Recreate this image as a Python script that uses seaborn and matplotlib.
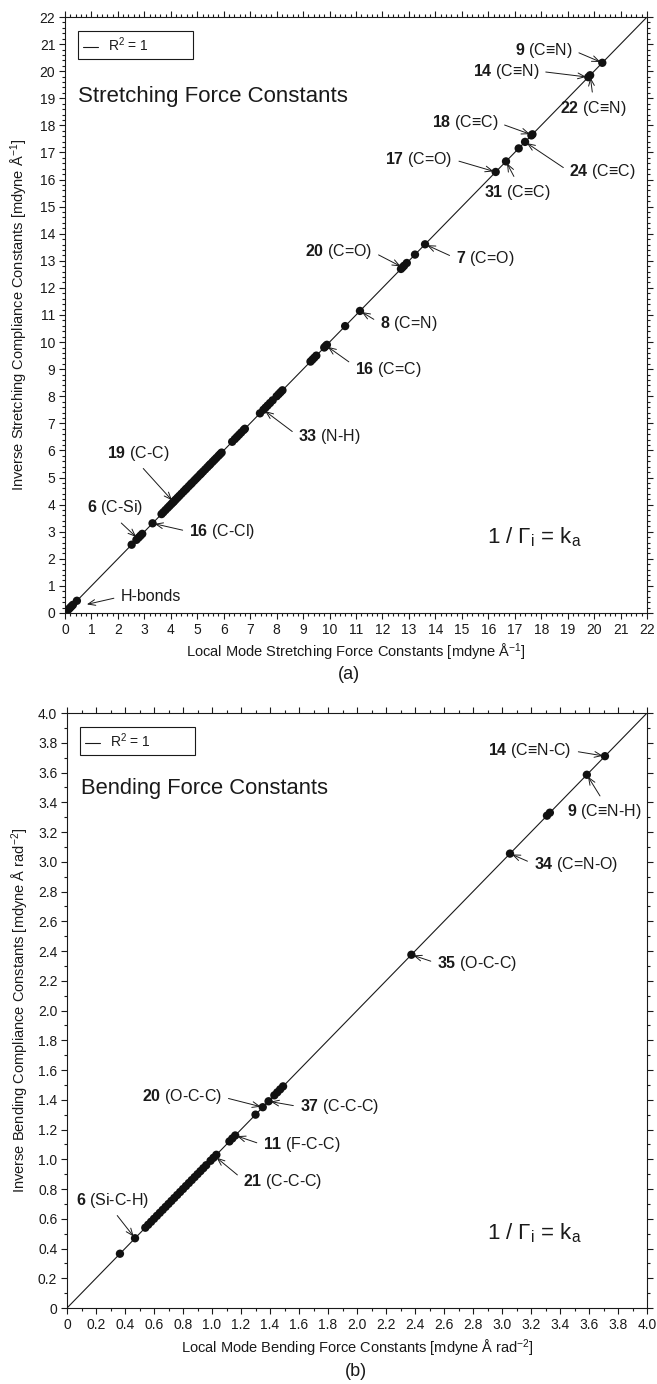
import matplotlib
matplotlib.use("Agg")
import matplotlib.pyplot as plt
import seaborn as sns
import numpy as np
from matplotlib.ticker import MultipleLocator, FixedLocator, FixedFormatter

# ---------------- data ----------------
# (a) stretching: local mode force constant k_a vs inverse compliance 1/Gamma
stretch_ka = [0.05, 0.10, 0.15, 0.20, 0.25, 0.30, 0.45,
              2.52, 2.70, 2.78, 2.85, 2.92, 3.31,
              3.65, 3.72, 3.80, 3.88, 3.95, 4.02, 4.08, 4.12, 4.18, 4.25, 4.32,
              4.40, 4.48, 4.55, 4.60, 4.68, 4.75, 4.80, 4.88, 4.95, 5.02, 5.10,
              5.15, 5.22, 5.30, 5.38, 5.45, 5.50, 5.58, 5.65, 5.72, 5.80, 5.86, 5.92,
              6.32, 6.42, 6.50, 6.58, 6.66, 6.75, 6.80,
              7.37, 7.50, 7.58, 7.66, 7.75, 7.85, 8.00, 8.08, 8.15, 8.22,
              9.28, 9.35, 9.42, 9.50, 9.80, 9.85, 9.90, 10.59, 11.15,
              12.70, 12.76, 12.82, 12.92, 13.23, 13.61,
              16.28, 16.67, 17.15, 17.39, 17.63, 17.67, 19.78, 19.85, 20.31]
stretch_inv = [0.05, 0.10, 0.15, 0.20, 0.25, 0.30, 0.45,
               2.52, 2.70, 2.78, 2.85, 2.92, 3.31,
               3.65, 3.72, 3.80, 3.88, 3.95, 4.02, 4.08, 4.12, 4.18, 4.25, 4.32,
               4.40, 4.48, 4.55, 4.60, 4.68, 4.75, 4.80, 4.88, 4.95, 5.02, 5.10,
               5.15, 5.22, 5.30, 5.38, 5.45, 5.50, 5.58, 5.65, 5.72, 5.80, 5.86, 5.92,
               6.32, 6.42, 6.50, 6.58, 6.66, 6.75, 6.80,
               7.37, 7.50, 7.58, 7.66, 7.75, 7.85, 8.00, 8.08, 8.15, 8.22,
               9.28, 9.35, 9.42, 9.50, 9.80, 9.85, 9.90, 10.59, 11.15,
               12.70, 12.76, 12.82, 12.92, 13.23, 13.61,
               16.28, 16.67, 17.15, 17.39, 17.63, 17.67, 19.78, 19.85, 20.31]

# (b) bending
bend_ka = [0.365, 0.469, 0.54, 0.56, 0.58, 0.60,
           0.62, 0.64, 0.66, 0.68, 0.70, 0.72, 0.74, 0.76, 0.78, 0.80,
           0.82, 0.84, 0.86, 0.88, 0.90, 0.92, 0.94, 0.96,
           0.99, 1.01, 1.03, 1.12, 1.14, 1.16, 1.30, 1.35, 1.39,
           1.43, 1.45, 1.47, 1.49, 2.375, 3.055, 3.31, 3.33, 3.585, 3.71]
bend_inv = [0.365, 0.469, 0.54, 0.56, 0.58, 0.60,
            0.62, 0.64, 0.66, 0.68, 0.70, 0.72, 0.74, 0.76, 0.78, 0.80,
            0.82, 0.84, 0.86, 0.88, 0.90, 0.92, 0.94, 0.96,
            0.99, 1.01, 1.03, 1.12, 1.14, 1.16, 1.30, 1.35, 1.39,
            1.43, 1.45, 1.47, 1.49, 2.375, 3.055, 3.31, 3.33, 3.585, 3.71]

stretch_line = [0, 22]
bend_line = [0, 4]

stretch_ticks = list(range(0, 23))
stretch_ticklabels = [str(v) for v in stretch_ticks]
bend_ticks = [0, 0.2, 0.4, 0.6, 0.8, 1.0, 1.2, 1.4, 1.6, 1.8, 2.0,
              2.2, 2.4, 2.6, 2.8, 3.0, 3.2, 3.4, 3.6, 3.8, 4.0]
bend_ticklabels = ["0", "0.2", "0.4", "0.6", "0.8", "1.0", "1.2", "1.4", "1.6",
                   "1.8", "2.0", "2.2", "2.4", "2.6", "2.8", "3.0", "3.2",
                   "3.4", "3.6", "3.8", "4.0"]

# annotations: label, target value on the diagonal, text x, text y, arrow start relpos
stretch_labels = [r"$\mathbf{9}$ (C≡N)", r"$\mathbf{14}$ (C≡N)", r"$\mathbf{22}$ (C≡N)",
                  r"$\mathbf{18}$ (C≡C)", r"$\mathbf{17}$ (C=O)", r"$\mathbf{24}$ (C≡C)",
                  r"$\mathbf{31}$ (C≡C)", r"$\mathbf{20}$ (C=O)", r"$\mathbf{7}$ (C=O)",
                  r"$\mathbf{8}$ (C=N)", r"$\mathbf{16}$ (C=C)", r"$\mathbf{33}$ (N-H)",
                  r"$\mathbf{19}$ (C-C)", r"$\mathbf{6}$ (C-Si)", r"$\mathbf{16}$ (C-Cl)",
                  "H-bonds"]
stretch_targets = [(20.31, 20.31), (19.78, 19.78), (19.85, 19.85), (17.65, 17.65),
                   (16.28, 16.28), (17.39, 17.39), (16.67, 16.67), (12.76, 12.76),
                   (13.61, 13.61), (11.15, 11.15), (9.87, 9.87), (7.50, 7.50),
                   (4.10, 4.10), (2.75, 2.75), (3.31, 3.31), (0.75, 0.30)]
stretch_textpos = [(17.01, 20.78), (15.41, 20.00), (18.71, 18.63), (13.86, 18.10),
                   (12.10, 16.75), (19.07, 16.29), (15.84, 15.53), (9.07, 13.34),
                   (14.78, 13.09), (11.91, 10.70), (10.96, 8.97), (8.82, 6.53),
                   (1.58, 5.90), (0.84, 3.88), (4.70, 3.00), (2.10, 0.60)]
stretch_relpos = [(1, 0.5), (1, 0.5), (0.5, 1), (1, 0.5), (1, 0.5), (0, 0.5),
                  (0.5, 1), (1, 0.5), (0, 0.5), (0, 0.5), (0, 0.7), (0, 0.5),
                  (0.5, 0), (0.5, 0), (0, 0.5), (0, 0.5)]

bend_labels = [r"$\mathbf{14}$ (C≡N-C)", r"$\mathbf{9}$ (C≡N-H)", r"$\mathbf{34}$ (C=N-O)",
               r"$\mathbf{35}$ (O-C-C)", r"$\mathbf{37}$ (C-C-C)", r"$\mathbf{20}$ (O-C-C)",
               r"$\mathbf{11}$ (F-C-C)", r"$\mathbf{21}$ (C-C-C)", r"$\mathbf{6}$ (Si-C-H)"]
bend_targets = [(3.71, 3.71), (3.585, 3.585), (3.055, 3.055), (2.375, 2.375),
                (1.39, 1.39), (1.35, 1.35), (1.16, 1.16), (1.02, 1.02), (0.469, 0.469)]
bend_textpos = [(2.906, 3.747), (3.446, 3.337), (3.22, 2.985), (2.554, 2.317),
                (1.607, 1.353), (0.515, 1.42), (1.354, 1.096), (1.216, 0.849),
                (0.062, 0.726)]
bend_relpos = [(1, 0.5), (0.5, 1), (0, 0.5), (0, 0.5), (0, 0.5), (1, 0.5),
               (0, 0.5), (0, 0.6), (0.5, 0)]

# ---------------- style ----------------
sns.set_theme(style="ticks")
plt.rcParams['font.family'] = ['Liberation Sans', 'DejaVu Sans']
plt.rcParams['mathtext.fontset'] = 'custom'
plt.rcParams['mathtext.rm'] = 'Liberation Sans'
plt.rcParams['mathtext.it'] = 'Liberation Sans:italic'
plt.rcParams['mathtext.bf'] = 'Liberation Sans:bold'
plt.rcParams['axes.unicode_minus'] = False

INK = '#1a1a1a'
fig = plt.figure(figsize=(6.57, 13.84), dpi=100)
ax1 = fig.add_axes([0.0989, 0.5571, 0.8859, 0.4306])
ax2 = fig.add_axes([0.1020, 0.0549, 0.8828, 0.4299])


def style_axes(ax, lim, ticks, ticklabels, minor):
    ax.set_xlim(0, lim)
    ax.set_ylim(0, lim)
    ax.xaxis.set_major_locator(FixedLocator(ticks))
    ax.yaxis.set_major_locator(FixedLocator(ticks))
    ax.xaxis.set_major_formatter(FixedFormatter(ticklabels))
    ax.yaxis.set_major_formatter(FixedFormatter(ticklabels))
    ax.xaxis.set_minor_locator(MultipleLocator(minor))
    ax.yaxis.set_minor_locator(MultipleLocator(minor))
    ax.tick_params(which='both', direction='out', top=True, right=True,
                   labeltop=False, labelright=False, colors=INK, width=0.8)
    ax.tick_params(which='major', length=4.5, labelsize=10, pad=2.5)
    ax.tick_params(which='minor', length=2.2)
    for s in ax.spines.values():
        s.set_visible(True)
        s.set_color(INK)
        s.set_linewidth(0.8)
    ax.set_facecolor('white')


def draw_panel(ax, xs, ys, line, labels, targets, textpos, relpos, lim):
    sns.lineplot(x=line, y=line, ax=ax, color=INK, lw=0.8, label=r"R$^2$ = 1",
                 zorder=2)
    sns.scatterplot(x=xs, y=ys, ax=ax, color='#111111', s=36, linewidth=0,
                    edgecolor='none', zorder=3, legend=False)
    for lab, tgt, tp, rp in zip(labels, targets, textpos, relpos):
        ax.annotate(lab, xy=tgt, xytext=tp, ha='left', va='center',
                    fontsize=11.5, color=INK,
                    arrowprops=dict(arrowstyle='->,head_length=0.45,head_width=0.18',
                                    lw=0.7, color=INK, relpos=rp,
                                    shrinkA=2.5, shrinkB=1.5))


draw_panel(ax1, stretch_ka, stretch_inv, stretch_line, stretch_labels,
           stretch_targets, stretch_textpos, stretch_relpos, 22)
style_axes(ax1, 22, stretch_ticks, stretch_ticklabels, 0.2)
ax1.text(0.49, 19.05, "Stretching Force Constants", fontsize=16, color=INK,
         ha='left', va='center')
ax1.text(15.95, 2.8, r"1 / Γ$_\mathrm{i}$ = k$_\mathrm{a}$", fontsize=16,
         color=INK, ha='left', va='center')
ax1.set_xlabel(r"Local Mode Stretching Force Constants [mdyne Å$^{\mathrm{-1}}$]",
               fontsize=10.5, color=INK)
ax1.set_ylabel(r"Inverse Stretching Compliance Constants [mdyne Å$^{\mathrm{-1}}$]",
               fontsize=10.5, color=INK)

draw_panel(ax2, bend_ka, bend_inv, bend_line, bend_labels,
           bend_targets, bend_textpos, bend_relpos, 4)
style_axes(ax2, 4, bend_ticks, bend_ticklabels, 0.1)
ax2.text(0.097, 3.496, "Bending Force Constants", fontsize=15.8, color=INK,
         ha='left', va='center')
ax2.text(2.897, 0.504, r"1 / Γ$_\mathrm{i}$ = k$_\mathrm{a}$", fontsize=16,
         color=INK, ha='left', va='center')
ax2.set_xlabel(r"Local Mode Bending Force Constants [mdyne Å rad$^{\mathrm{-2}}$]",
               fontsize=10.5, color=INK)
ax2.set_ylabel(r"Inverse Bending Compliance Constants [mdyne Å rad$^{\mathrm{-2}}$]",
               fontsize=10.5, color=INK)

for ax, xl, yl in [(ax1, -0.0654, -0.0790), (ax2, -0.0672, -0.0810)]:
    ax.xaxis.set_label_coords(0.5, xl)
    ax.xaxis.label.set_va('center')
    ax.yaxis.set_label_coords(yl, 0.5)
    ax.yaxis.label.set_va('center')
    ax.yaxis.label.set_ha('center')

for ax, b in [(ax1, (0.0223, 0.9765 - 0.036, 0.198, 0.036)),
              (ax2, (0.0224, 0.9765 - 0.037, 0.198, 0.037))]:
    leg = ax.legend(loc='upper left', bbox_to_anchor=b, mode='expand',
                    borderaxespad=0, fancybox=False, framealpha=1,
                    edgecolor=INK, fontsize=10, handlelength=1.1,
                    handletextpad=0.7, borderpad=0.35)
    leg.get_frame().set_linewidth(0.8)
    for t in leg.get_texts():
        t.set_color(INK)

fig.text(0.531, 0.513, "(a)", fontsize=13, color=INK, ha='center', va='center')
fig.text(0.542, 0.0087, "(b)", fontsize=13, color=INK, ha='center', va='center')

fig.savefig("out.png", dpi=100, facecolor='white')
